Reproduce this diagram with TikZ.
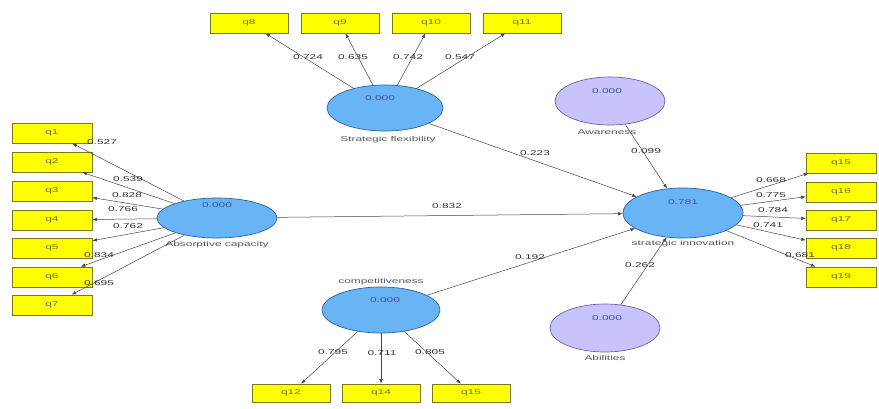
\documentclass[tikz,border=0pt]{standalone}
\usepackage{fontspec}
\newfontfamily\plsfont[FakeStretch=1.7]{Liberation Sans}
\usetikzlibrary{shapes.geometric,arrows.meta}
\definecolor{boxfill}{RGB}{255,255,0}
\definecolor{boxline}{RGB}{120,120,20}
\definecolor{boxtext}{RGB}{110,110,30}
\definecolor{latfill}{RGB}{105,180,245}
\definecolor{latline}{RGB}{45,95,165}
\definecolor{purfill}{RGB}{200,195,250}
\definecolor{purline}{RGB}{110,95,170}
\definecolor{valtext}{RGB}{60,80,150}
\definecolor{captext}{RGB}{85,85,85}
\definecolor{wttext}{RGB}{50,50,50}
\definecolor{linecol}{RGB}{70,70,70}
\begin{document}
\begin{tikzpicture}[x=1pt,y=-1pt,
  every node/.style={font=\plsfont\fontsize{7}{8}\selectfont, inner sep=0pt},
  ind/.style={rectangle, draw=boxline, fill=boxfill, line width=0.7pt, minimum width=80pt, minimum height=20pt, text=boxtext},
  indr/.style={ind, minimum width=70pt},
  lat/.style={ellipse, draw=latline, fill=latfill, line width=0.7pt},
  latp/.style={ellipse, draw=purline, fill=purfill, line width=0.7pt},
  val/.style={text=valtext},
  captn/.style={text=captext},
  wt/.style={text=wttext},
  arr/.style={draw=linecol, line width=0.5pt, -{Latex[length=4.5pt,width=3.5pt]}}
]
\fill[white] (0,0) rectangle (879,408);
\useasboundingbox (0,0) rectangle (879,408);

% latent variables
\node[lat, minimum width=120pt, minimum height=40pt] (ac) at (217,218) {};
\node[lat, minimum width=116pt, minimum height=46pt] (sf) at (385,108) {};
\node[latp, minimum width=110pt, minimum height=48pt] (aw) at (610,101) {};
\node[lat, minimum width=120pt, minimum height=50pt] (si) at (683,213) {};
\node[latp, minimum width=110pt, minimum height=48pt] (ab) at (605,328) {};
\node[lat, minimum width=118pt, minimum height=46pt] (cp) at (381,310) {};

% values
\node[val] (acv) at (217,205) {0.000};
\node[val] (sfv) at (380,98) {0.000};
\node[val] (awv) at (607,91) {0.000};
\node[val] (siv) at (683,202) {0.781};
\node[val] (abv) at (607,318) {0.000};
\node[val] (cpv) at (385,300) {0.000};

% captions
\node[captn] (acc) at (217,245) {Absorptive capacity};
\node[captn] (sfc) at (388,140) {Strategic flexibility};
\node[captn] (awc) at (607,132) {Awareness};
\node[captn] (sic) at (683,244) {strategic innovation};
\node[captn] (abc) at (605,358) {Abilities};
\node[captn] (cpc) at (381,282) {competitiveness};

% indicators left
\node[ind] (q1) at (52,133) {q1};
\node[ind] (q2) at (52,162) {q2};
\node[ind] (q3) at (52,191) {q3};
\node[ind] (q4) at (52,220) {q4};
\node[ind] (q5) at (52,248) {q5};
\node[ind] (q6) at (52,277) {q6};
\node[ind] (q7) at (52,305) {q7};
% indicators top
\node[ind, minimum width=78pt] (q8) at (249,23) {q8};
\node[ind, minimum width=78pt] (q9) at (340,23) {q9};
\node[ind, minimum width=78pt] (q10) at (431,23) {q10};
\node[ind, minimum width=78pt] (q11) at (522,23) {q11};
% indicators right
\node[indr] (q15r) at (841,163) {q15};
\node[indr] (q16) at (841,192) {q16};
\node[indr] (q17) at (841,220) {q17};
\node[indr] (q18) at (841,248) {q18};
\node[indr] (q19) at (841,277) {q19};
% indicators bottom
\node[ind, minimum width=78pt, minimum height=18pt] (q12) at (291,393) {q12};
\node[ind, minimum width=78pt, minimum height=18pt] (q14) at (381,393) {q14};
\node[ind, minimum width=78pt, minimum height=18pt] (q15b) at (471,393) {q15};

% loadings
\foreach \t in {q1,q2,q3,q4,q5,q6,q7} \draw[arr] (ac) -- (\t);
\foreach \t in {q8,q9,q10,q11} \draw[arr] (sf) -- (\t);
\foreach \t in {q15r,q16,q17,q18,q19} \draw[arr] (si) -- (\t);
\foreach \t in {q12,q14,q15b} \draw[arr] (cp) -- (\t);

% paths
\draw[arr] (sf) -- (si);
\draw[arr] (ac) -- (si);
\draw[arr] (cp) -- (si);
\draw[arr] (aw) -- (si);
\draw[arr] (ab) -- (si);

% weights
\node[wt] (w1) at (102,142) {0.527};
\node[wt] (w2) at (128,179) {0.539};
\node[wt] (w3) at (127,195) {0.828};
\node[wt] (w4) at (123,209) {0.766};
\node[wt] (w5) at (128,226) {0.762};
\node[wt] (w6) at (99,255) {0.834};
\node[wt] (w7) at (99,283) {0.695};
\node[wt] (w8) at (308,57) {0.724};
\node[wt] (w9) at (353,57) {0.635};
\node[wt] (w10) at (408,57) {0.742};
\node[wt] (w11) at (460,57) {0.547};
\node[wt] (w15) at (771,180) {0.668};
\node[wt] (w16) at (771,195) {0.775};
\node[wt] (w17) at (773,210) {0.784};
\node[wt] (w18) at (768,225) {0.741};
\node[wt] (w19) at (800,255) {0.681};
\node[wt] (w12) at (333,352) {0.795};
\node[wt] (w14) at (382,353) {0.711};
\node[wt] (w15b) at (430,352) {0.805};
\node[wt] (psf) at (535,153) {0.223};
\node[wt] (paw) at (646,151) {0.099};
\node[wt] (pac) at (447,206) {0.832};
\node[wt] (pcp) at (530,257) {0.192};
\node[wt] (pab) at (640,265) {0.262};
\end{tikzpicture}
\end{document}
